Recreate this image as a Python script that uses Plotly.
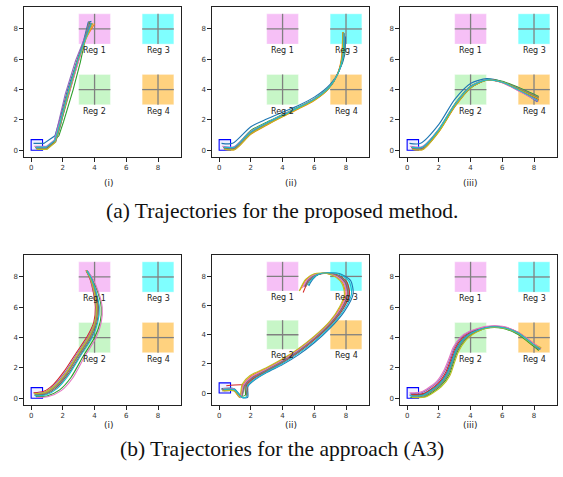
import plotly.graph_objects as go

# ---------------- data ----------------
TAB10 = ["#1f77b4", "#ff7f0e", "#2ca02c", "#d62728", "#9467bd",
         "#8c564b", "#e377c2", "#7f7f7f", "#bcbd22", "#17becf"]

REGION_NAMES = ["Reg 1", "Reg 2", "Reg 3", "Reg 4"]
REGION_CX = [4, 4, 8, 8]
REGION_CY = [8, 4, 8, 4]
REGION_COLORS = ["rgba(238,130,238,0.5)", "rgba(144,238,144,0.5)",
                 "rgba(0,255,255,0.5)", "rgba(255,165,0,0.5)"]
START_BOX = [0.0, 0.72, 0.0, 0.7]

TICKS = [0, 2, 4, 6, 8]
PANEL_LABELS = ["(i)", "(ii)", "(iii)", "(i)", "(ii)", "(iii)"]
ROW_CAPTIONS = ["(a) Trajectories for the proposed method.",
                "(b) Trajectories for the approach (A3)"]

# proposed method, (i)
TRAJ_A1 = [
    [(0.15,0.45),(0.8,0.45),(1.5,0.95),(1.8,2.0),(2.3,4.0),(2.9,6.0),(3.3,7.2),(3.6,8.45),(3.8,8.5)],
    [(0.4,0.05),(0.95,0.05),(1.45,0.5),(1.75,1.5),(2.25,3.6),(2.9,5.8),(3.4,7.3),(4.0,8.35)],
    [(0.25,0.2),(1.0,0.2),(1.75,0.95),(2.05,1.9),(2.65,4.0),(3.1,5.8),(3.35,7.0),(3.7,8.45)],
    [(0.3,0.12),(0.95,0.12),(1.5,0.6),(1.8,1.7),(2.3,3.7),(2.9,5.9),(3.35,7.2),(3.85,8.35)],
    [(0.3,0.15),(0.9,0.15),(1.45,0.6),(1.7,1.7),(2.15,3.7),(2.8,5.9),(3.3,7.2),(3.75,8.4)],
    [(0.35,0.1),(0.95,0.1),(1.55,0.6),(1.85,1.7),(2.35,3.7),(2.95,5.8),(3.35,7.1),(3.8,8.4)],
    [(0.2,0.25),(0.95,0.25),(1.5,0.7),(1.8,1.8),(2.45,4.0),(3.0,5.8),(3.35,7.1),(3.85,8.3)],
    [(0.3,0.1),(1.0,0.1),(1.55,0.55),(1.85,1.6),(2.3,3.6),(2.9,5.8),(3.35,7.2),(3.65,8.5)],
    [(0.35,0.05),(1.0,0.05),(1.5,0.5),(1.8,1.6),(2.3,3.6),(2.9,5.8),(3.4,7.2),(3.9,8.4)],
    [(0.3,0.2),(0.95,0.2),(1.5,0.65),(1.8,1.7),(2.3,3.7),(2.9,5.85),(3.35,7.15),(3.8,8.4)],
]
# proposed method, (ii)
TRAJ_A2 = [
    [(0.15,0.45),(0.85,0.45),(2,1.55),(3,2.05),(4,2.5),(5,2.95),(6,3.5),(7,4.35),(7.6,5.3),(7.92,6.3),(7.97,7.5)],
    [(0.35,0.05),(1.0,0.05),(2,1.05),(3,1.65),(4,2.2),(5,2.72),(6,3.28),(6.9,4.05),(7.45,5.0),(7.7,6.0),(7.8,7.8)],
    [(0.25,0.2),(0.95,0.2),(2,1.3),(3,1.85),(4,2.35),(5,2.85),(6,3.4),(7,4.25),(7.55,5.2),(7.85,6.2),(7.9,7.7)],
    [(0.3,0.12),(0.95,0.12),(2,1.15),(3,1.75),(4,2.28),(5,2.8),(6,3.35),(6.95,4.15),(7.5,5.1),(7.78,6.1),(7.85,7.75)],
    [(0.3,0.15),(0.9,0.15),(2,1.2),(3,1.78),(4,2.3),(5,2.8),(6,3.36),(6.95,4.15),(7.5,5.1),(7.8,6.1),(7.88,7.7)],
    [(0.35,0.1),(1.0,0.1),(2,1.1),(3,1.7),(4,2.25),(5,2.78),(6,3.32),(6.92,4.1),(7.48,5.05),(7.75,6.05),(7.82,7.75)],
    [(0.2,0.25),(0.95,0.25),(2,1.25),(3,1.8),(4,2.32),(5,2.82),(6,3.38),(6.97,4.2),(7.52,5.15),(7.8,6.15),(7.86,7.72)],
    [(0.3,0.1),(1.0,0.1),(2,1.12),(3,1.72),(4,2.26),(5,2.78),(6,3.33),(6.93,4.12),(7.5,5.08),(7.77,6.08),(7.84,7.78)],
    [(0.35,0.05),(1.0,0.05),(2,1.08),(3,1.68),(4,2.22),(5,2.75),(6,3.3),(6.92,4.08),(7.47,5.02),(7.73,6.02),(7.81,7.8)],
    [(0.3,0.2),(0.95,0.2),(2,1.22),(3,1.8),(4,2.3),(5,2.82),(6,3.37),(6.96,4.18),(7.52,5.12),(7.8,6.12),(7.87,7.72)],
]
# proposed method, (iii)
TRAJ_A3 = [
    [(0.15,0.45),(0.85,0.45),(2,1.7),(3,3.35),(4,4.4),(5,4.72),(6,4.52),(7,4.05),(8.2,3.2)],
    [(0.35,0.05),(1.0,0.05),(2,1.2),(3,2.85),(4,4.1),(5,4.62),(6,4.45),(7,3.95),(8.3,3.25)],
    [(0.25,0.2),(0.95,0.2),(2,1.4),(3,3.05),(4,4.22),(5,4.66),(6,4.55),(7,4.15),(8.3,3.55)],
    [(0.3,0.12),(0.95,0.12),(2,1.3),(3,2.95),(4,4.15),(5,4.63),(6,4.48),(7,4.0),(8.3,3.35)],
    [(0.3,0.15),(0.9,0.15),(2,1.35),(3,3.0),(4,4.2),(5,4.65),(6,4.47),(7,3.95),(8.25,3.2)],
    [(0.35,0.1),(1.0,0.1),(2,1.25),(3,2.9),(4,4.12),(5,4.62),(6,4.5),(7,4.05),(8.3,3.45)],
    [(0.2,0.25),(0.95,0.25),(2,1.38),(3,3.0),(4,4.18),(5,4.64),(6,4.46),(7,3.93),(8.2,3.3)],
    [(0.3,0.1),(1.0,0.1),(2,1.28),(3,2.92),(4,4.14),(5,4.63),(6,4.52),(7,4.1),(8.3,3.5)],
    [(0.35,0.05),(1.0,0.05),(2,1.22),(3,2.88),(4,4.12),(5,4.62),(6,4.5),(7,4.02),(8.3,3.4)],
    [(0.3,0.2),(0.95,0.2),(2,1.36),(3,3.0),(4,4.18),(5,4.64),(6,4.48),(7,3.98),(8.25,3.28)],
]
# approach (A3), (i)
TRAJ_B1 = [
    [(0.2,0.2),(0.8,0.3),(1.5,0.72),(2.2,1.55),(3.0,2.85),(3.7,4.0),(4.05,5.0),(4.15,6.0),(4.0,7.0),(3.75,7.9),(3.5,8.4)],
    [(0.3,0.3),(0.9,0.35),(1.55,0.8),(2.25,1.65),(3.0,2.9),(3.72,4.05),(4.08,5.0),(4.2,6.0),(4.05,7.0),(3.78,7.9),(3.5,8.4)],
    [(0.3,0.1),(1.0,0.15),(1.8,0.55),(2.5,1.35),(3.3,2.8),(4.0,4.0),(4.35,5.0),(4.42,6.0),(4.2,7.0),(3.85,7.9),(3.55,8.4)],
    [(0.15,0.35),(0.8,0.45),(1.4,0.9),(2.1,1.8),(2.85,3.0),(3.55,4.1),(3.95,5.0),(4.05,6.0),(3.92,7.0),(3.7,7.9),(3.45,8.45)],
    [(0.2,0.3),(0.85,0.4),(1.45,0.85),(2.15,1.72),(2.9,2.95),(3.6,4.05),(4.0,5.0),(4.1,6.0),(3.95,7.0),(3.72,7.9),(3.48,8.42)],
    [(0.3,0.2),(0.95,0.28),(1.6,0.7),(2.3,1.55),(3.1,2.85),(3.8,4.0),(4.15,5.0),(4.25,6.0),(4.08,7.0),(3.8,7.9),(3.52,8.4)],
    [(0.35,0.05),(1.05,0.1),(1.9,0.5),(2.6,1.3),(3.4,2.8),(4.1,4.0),(4.42,5.0),(4.48,6.0),(4.25,7.0),(3.88,7.9),(3.55,8.38)],
    [(0.25,0.25),(0.9,0.32),(1.55,0.78),(2.25,1.62),(3.02,2.9),(3.72,4.02),(4.07,5.0),(4.17,6.0),(4.02,7.0),(3.77,7.9),(3.5,8.4)],
    [(0.2,0.3),(0.85,0.38),(1.5,0.82),(2.2,1.68),(2.95,2.92),(3.65,4.05),(4.02,5.0),(4.12,6.0),(3.98,7.0),(3.74,7.9),(3.48,8.42)],
    [(0.25,0.15),(0.95,0.22),(1.65,0.65),(2.35,1.5),(3.15,2.85),(3.85,4.0),(4.2,5.0),(4.3,6.0),(4.1,7.0),(3.8,7.9),(3.52,8.4)],
]
# approach (A3), (ii)
TRAJ_B2 = [
    [(0.15,0.3),(0.95,0.3),(1.45,-0.3),(1.8,-0.3),(1.82,0.45),(2.25,0.9),(3,1.4),(4,1.95),(5,2.62),(6,3.45),(7,4.45),(7.9,5.6),(8.45,6.8),(8.3,7.7),(7.7,8.15),(7.0,8.25),(6.3,8.15),(5.9,7.8),(5.65,7.35)],
    [(0.25,0.2),(0.9,0.2),(1.3,-0.3),(1.5,0.55),(2.0,1.15),(3,1.7),(4,2.3),(5,3.0),(6,3.85),(7,4.9),(7.65,5.9),(7.95,6.8),(7.8,7.55),(7.4,8.0),(6.8,8.2),(6.0,8.15),(5.5,7.8),(5.1,7.05)],
    [(0.2,0.25),(0.9,0.25),(1.4,-0.2),(1.65,-0.15),(1.65,0.5),(2.1,1.0),(3,1.55),(4,2.15),(5,2.85),(6,3.7),(7,4.7),(7.8,5.8),(8.2,6.8),(8.05,7.6),(7.55,8.05),(6.9,8.22),(6.2,8.12),(5.75,7.8),(5.45,7.3)],
    [(0.45,0.5),(1.75,0.5),(1.75,-0.2),(1.72,0.5),(2.15,0.98),(3,1.5),(4,2.1),(5,2.8),(6,3.65),(7,4.65),(7.8,5.75),(8.22,6.8),(8.05,7.62),(7.55,8.07),(6.85,8.22),(6.1,8.1),(5.6,7.6),(5.3,6.9)],
    [(0.3,0.15),(0.95,0.15),(1.35,-0.3),(1.55,0.5),(2.05,1.08),(3,1.62),(4,2.22),(5,2.92),(6,3.78),(7,4.8),(7.72,5.85),(8.08,6.8),(7.92,7.58),(7.48,8.02),(6.85,8.2),(6.1,8.12),(5.62,7.8),(5.35,7.3)],
    [(0.2,0.2),(0.95,0.2),(1.38,-0.28),(1.6,0.5),(2.08,1.04),(3,1.6),(4,2.2),(5,2.9),(6,3.75),(7,4.78),(7.75,5.85),(8.12,6.8),(7.96,7.6),(7.5,8.03),(6.88,8.21),(6.15,8.12),(5.68,7.8),(5.4,7.3)],
    [(0.25,0.3),(0.9,0.3),(1.35,-0.32),(1.52,0.52),(2.02,1.1),(3,1.65),(4,2.25),(5,2.95),(6,3.8),(7,4.85),(7.7,5.88),(8.02,6.8),(7.86,7.56),(7.44,8.0),(6.82,8.2),(6.05,8.14),(5.58,7.8),(5.25,7.2)],
    [(0.15,0.25),(0.9,0.25),(1.42,-0.25),(1.62,0.48),(2.1,1.02),(3,1.57),(4,2.17),(5,2.87),(6,3.72),(7,4.74),(7.78,5.82),(8.15,6.8),(8.0,7.6),(7.52,8.04),(6.9,8.22),(6.2,8.13),(5.72,7.82),(5.5,7.35)],
    [(0.2,0.15),(0.95,0.15),(1.3,-0.3),(1.45,0.6),(1.95,1.2),(3,1.75),(4,2.35),(5,3.05),(6,3.9),(7,4.95),(7.6,5.92),(7.9,6.8),(7.75,7.5),(7.35,7.95),(6.75,8.22),(6.0,8.18),(5.45,7.8),(5.05,7.0)],
    [(0.3,0.25),(0.95,0.25),(1.45,-0.3),(1.75,-0.25),(1.76,0.45),(2.2,0.93),(3,1.45),(4,2.02),(5,2.72),(6,3.55),(7,4.55),(7.85,5.68),(8.35,6.8),(8.2,7.66),(7.65,8.12),(6.95,8.25),(6.25,8.15),(5.85,7.82),(5.6,7.4)],
]
# approach (A3), (iii)
TRAJ_B3 = [
    [(0.15,0.2),(1,0.28),(2,0.95),(2.5,1.7),(2.8,2.5),(3.05,3.2),(3.5,3.9),(4,4.3),(5,4.68),(6,4.68),(7,4.3),(8,3.55),(8.4,3.25)],
    [(0.3,0.15),(1.05,0.2),(2.05,0.85),(2.6,1.6),(2.9,2.5),(3.15,3.2),(3.6,3.88),(4.1,4.28),(5,4.66),(6,4.7),(7,4.35),(8,3.6),(8.45,3.3)],
    [(0.2,0.05),(1.1,0.1),(2.1,0.8),(2.65,1.55),(2.95,2.45),(3.2,3.15),(3.65,3.85),(4.1,4.25),(5,4.62),(6,4.62),(7,4.2),(8,3.4),(8.3,3.15)],
    [(0.25,0.25),(1,0.3),(1.95,0.98),(2.45,1.75),(2.75,2.55),(3.0,3.25),(3.45,3.95),(4,4.35),(5,4.7),(6,4.7),(7,4.32),(8,3.55),(8.4,3.25)],
    [(0.2,0.3),(0.95,0.38),(1.9,1.05),(2.4,1.85),(2.7,2.6),(2.95,3.3),(3.4,4.0),(3.95,4.38),(5,4.72),(6,4.72),(7,4.33),(8,3.55),(8.4,3.28)],
    [(0.3,0.2),(1.05,0.25),(2.02,0.92),(2.55,1.68),(2.85,2.48),(3.1,3.18),(3.55,3.88),(4.05,4.3),(5,4.67),(6,4.68),(7,4.3),(8,3.52),(8.35,3.25)],
    [(0.15,0.35),(0.9,0.42),(1.85,1.1),(2.35,1.9),(2.65,2.65),(2.9,3.35),(3.35,4.02),(3.9,4.4),(5,4.74),(6,4.74),(7,4.36),(8,3.6),(8.45,3.3)],
    [(0.25,0.1),(1.05,0.15),(2.05,0.85),(2.6,1.62),(2.9,2.45),(3.15,3.15),(3.6,3.85),(4.08,4.27),(5,4.65),(6,4.66),(7,4.27),(8,3.48),(8.35,3.2)],
    [(0.3,0.05),(1.15,0.08),(2.15,0.75),(2.7,1.5),(3.0,2.4),(3.25,3.1),(3.7,3.82),(4.15,4.22),(5,4.62),(6,4.64),(7,4.28),(8,3.5),(8.45,3.35)],
    [(0.2,0.15),(1.0,0.2),(2.0,0.9),(2.55,1.65),(2.85,2.48),(3.1,3.2),(3.55,3.9),(4.05,4.3),(5,4.67),(6,4.67),(7,4.3),(8,3.52),(8.4,3.22)],
]

PANELS = [TRAJ_A1, TRAJ_A2, TRAJ_A3, TRAJ_B1, TRAJ_B2, TRAJ_B3]
PANEL_SHAPE = ["linear", "spline", "spline", "spline", "spline", "spline"]
PANEL_YRANGE = [[-0.45, 9.45], [-0.45, 9.45], [-0.45, 9.45],
                [-0.45, 9.45], [-0.82, 9.47], [-0.45, 9.45]]
XRANGE = [-0.45, 9.45]

# ---------------- layout geometry (pixels) ----------------
W, H = 563, 477
COL_PX = [(24, 181), (212, 369), (400, 557)]
ROW_PX = [(7, 157), (255, 405)]

fig = go.Figure()
shapes = []
annotations = []

for p, trajs in enumerate(PANELS):
    r, c = divmod(p, 3)
    ax = "" if p == 0 else str(p + 1)
    xref, yref = "x" + ax, "y" + ax
    x0, x1 = COL_PX[c]
    y0, y1 = ROW_PX[r]
    axis_style = dict(
        tickvals=TICKS, ticks="outside", ticklen=3.5, tickwidth=0.8,
        tickcolor="#222", showgrid=False, zeroline=False,
        showline=True, mirror=True, linecolor="#222", linewidth=1.1,
        tickfont=dict(size=7, color="#333", family="DejaVu Sans"))
    fig.layout["xaxis" + ax] = dict(domain=[x0 / W, x1 / W], range=XRANGE,
                                    anchor=yref, **axis_style)
    fig.layout["yaxis" + ax] = dict(domain=[1 - y1 / H, 1 - y0 / H],
                                    range=PANEL_YRANGE[p], anchor=xref, **axis_style)

    # regions
    for name, cx, cy, col in zip(REGION_NAMES, REGION_CX, REGION_CY, REGION_COLORS):
        shapes.append(dict(type="rect", xref=xref, yref=yref, x0=cx - 1, x1=cx + 1,
                           y0=cy - 1, y1=cy + 1, fillcolor=col,
                           line=dict(width=0.6, color="rgba(255,255,255,0.6)"), layer="below"))
        shapes.append(dict(type="line", xref=xref, yref=yref, x0=cx - 1, x1=cx + 1,
                           y0=cy, y1=cy, line=dict(color="#808080", width=1.3), layer="below"))
        shapes.append(dict(type="line", xref=xref, yref=yref, x0=cx, x1=cx,
                           y0=cy - 1, y1=cy + 1, line=dict(color="#808080", width=1.3), layer="below"))
        annotations.append(dict(xref=xref, yref=yref, x=cx, y=cy - 1.45, text=name,
                                showarrow=False, font=dict(size=8, color="#222",
                                                           family="DejaVu Sans")))
    # start box
    shapes.append(dict(type="rect", xref=xref, yref=yref, x0=START_BOX[0], x1=START_BOX[1],
                       y0=START_BOX[2], y1=START_BOX[3], fillcolor="rgba(0,0,255,0.06)",
                       line=dict(color="blue", width=1.1), layer="below"))

    for k, tr in enumerate(trajs):
        fig.add_trace(go.Scatter(
            x=[pt[0] for pt in tr], y=[pt[1] for pt in tr], mode="lines",
            line=dict(color=TAB10[k % 10], width=1.1, shape=PANEL_SHAPE[p], smoothing=0.7),
            xaxis=xref, yaxis=yref, showlegend=False, hoverinfo="skip"))

    # panel label
    annotations.append(dict(xref="paper", yref="paper", x=(x0 + x1) / 2 / W,
                            y=1 - (y1 + 26) / H, text=PANEL_LABELS[p], showarrow=False,
                            borderpad=0,
                            font=dict(size=9, color="#222", family="DejaVu Sans")))

for r, cap in enumerate(ROW_CAPTIONS):
    ypx = [211, 462][r]
    annotations.append(dict(xref="paper", yref="paper", x=282 / W, y=1 - ypx / H,
                            text=cap, showarrow=False, borderpad=0,
                            font=dict(size=21.5, color="#111", family="Liberation Serif")))

fig.update_layout(width=W, height=H, margin=dict(l=0, r=0, t=0, b=0),
                  paper_bgcolor="white", plot_bgcolor="white",
                  shapes=shapes, annotations=annotations, showlegend=False)

fig.write_html("out.html", config={"displayModeBar": False},
               post_script="document.body.style.margin='0';document.body.style.padding='0';")
